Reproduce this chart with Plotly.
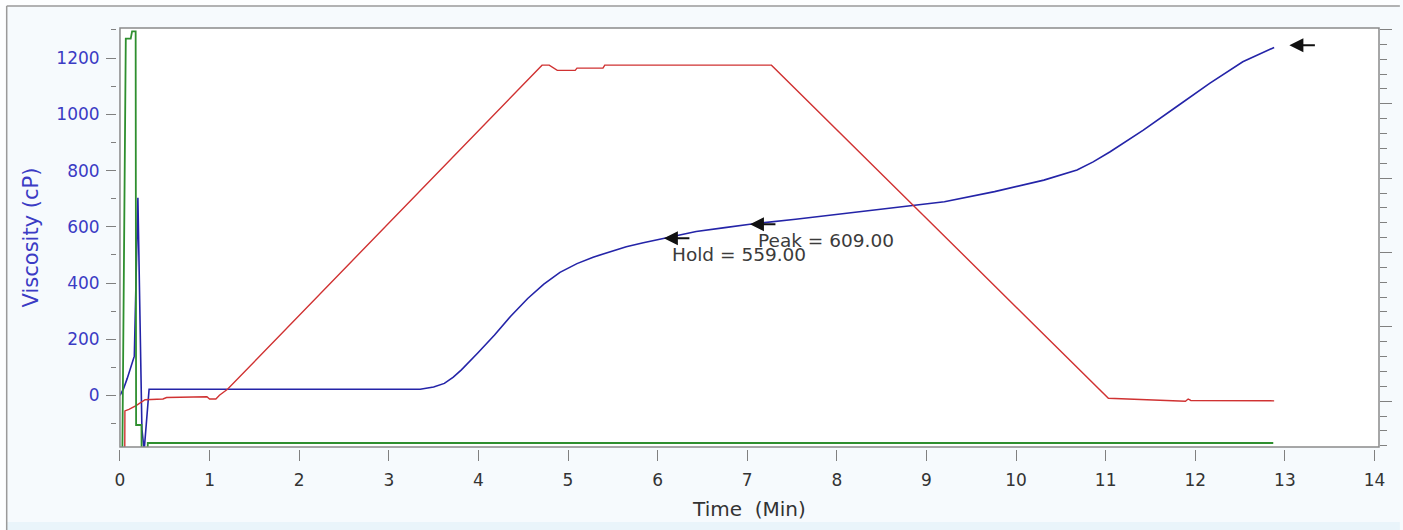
import plotly.graph_objects as go

# ---- RVA pasting run: viscosity, temperature and paddle speed vs time ----
time_visc = [0.00, 0.04, 0.08, 0.13, 0.16, 0.20, 0.245, 0.27, 0.30, 0.325,
             3.35, 3.50, 3.62, 3.72, 3.81, 3.90, 3.99, 4.18, 4.36, 4.55,
             4.73, 4.91, 5.10, 5.28, 5.47, 5.65, 5.84, 6.07, 6.43, 6.75,
             7.03, 7.54, 8.09, 8.65, 8.81, 9.20, 9.76, 10.31, 10.68, 10.86,
             11.05, 11.42, 11.79, 12.16, 12.53, 12.88]
viscosity = [0, 24, 60, 115, 140, 703, -120, -195, -60, 22,
             22, 30, 43, 65, 91, 120, 150, 215, 282, 345,
             396, 438, 469, 492, 511, 529, 543, 559, 583, 597,
             609, 627, 648, 668, 674, 689, 725, 766, 802, 831,
             867, 944, 1027, 1110, 1187, 1238]

time_temp = [0.05, 0.055, 0.10, 0.18, 0.28, 0.48, 0.52, 0.97, 1.00, 1.07,
             1.11, 1.20, 4.71, 4.79, 4.88, 5.08, 5.10, 5.39, 5.41, 7.27,
             11.03, 11.86, 11.89, 11.92, 11.95, 12.88]
temperature = [30.0, 48.7, 48.9, 49.4, 50.2, 50.3, 50.5, 50.6, 50.3, 50.3,
               50.8, 51.6, 95.2, 95.2, 94.5, 94.5, 94.8, 94.8, 95.2, 95.2,
               50.4, 50.1, 50.0, 50.3, 50.1, 50.05]

time_speed = [0.02, 0.065, 0.12, 0.135, 0.175, 0.18, 0.24, 0.245, 0.305, 0.31, 12.87]
speed = [0, 946, 946, 960, 960, 195, 195, 0, 0, 160, 160]

# flagged points on the viscosity curve
marker_names = ["Hold", "Peak", ""]
marker_times = [6.07, 7.03, 13.05]
marker_values = [559.00, 609.00, 1246.0]

x_ticks = list(range(0, 15))

W, H = 1403, 530
ML, MR, MT, MB = 116, 16, 28, 81
GAP_Y, GAP_X = 4, 2
plot_w = W - ML - MR
plot_h = H - MT - MB

FONT = "DejaVu Sans"
BLUE_TXT = "#3b3bc4"
GRAY = "#808080"


def px_x(px):
    return (px - ML) / plot_w


def px_y(py):
    return (H - MB - py) / plot_h


fig = go.Figure()

fig.add_trace(go.Scatter(x=time_speed, y=speed, mode="lines", yaxis="y3",
                         line=dict(color="#2f8f2f", width=1.8), hoverinfo="skip"))
fig.add_trace(go.Scatter(x=time_temp, y=temperature, mode="lines", yaxis="y2",
                         line=dict(color="#d03232", width=1.4), hoverinfo="skip"))
fig.add_trace(go.Scatter(x=time_visc, y=viscosity, mode="lines", yaxis="y",
                         line=dict(color="#2424a8", width=1.6), hoverinfo="skip"))

annotations = []
for name, t, v in zip(marker_names, marker_times, marker_values):
    annotations.append(dict(x=t, y=v, xref="x", yref="y", text="", showarrow=True,
                            ax=27, ay=0, axref="pixel", ayref="pixel",
                            arrowhead=2, arrowsize=1.4, arrowwidth=2,
                            arrowcolor="#111111", standoff=0, startstandoff=0))
    if name:
        annotations.append(dict(x=t, y=v, xref="x", yref="y",
                                text=f"{name} = {v:.2f}", showarrow=False,
                                xanchor="left", yanchor="middle", xshift=6, yshift=-16,
                                font=dict(family=FONT, size=18.5, color="#3b3b3b")))

shapes = [
    # outer panel: lower band and border lines
    dict(type="rect", xref="paper", yref="paper", x0=px_x(-5), x1=px_x(W + 5),
         y0=px_y(H + 5), y1=px_y(522), fillcolor="#e9f4fa", line=dict(width=0), layer="below"),
    dict(type="rect", xref="paper", yref="paper", x0=px_x(-5), x1=px_x(W + 5),
         y0=px_y(5.5), y1=px_y(-5), fillcolor="#fdfeff", line=dict(width=0), layer="below"),
    dict(type="rect", xref="paper", yref="paper", x0=px_x(-5), x1=px_x(5.5),
         y0=px_y(H + 5), y1=px_y(-5), fillcolor="#fdfeff", line=dict(width=0), layer="below"),
    dict(type="line", xref="paper", yref="paper", x0=px_x(6), x1=px_x(W + 5),
         y0=px_y(6), y1=px_y(6), line=dict(color="#9a9a9a", width=1.5)),
    dict(type="line", xref="paper", yref="paper", x0=px_x(6), x1=px_x(6),
         y0=px_y(6), y1=px_y(H + 5), line=dict(color="#9a9a9a", width=1.5)),
    # plot frame
    dict(type="rect", xref="x domain", yref="y domain", x0=0, x1=1, y0=0, y1=1,
         line=dict(color="#8a8a8a", width=1.5), layer="above"),
]

fig.update_layout(
    width=W, height=H,
    margin=dict(l=ML, r=MR, t=MT, b=MB, pad=0),
    paper_bgcolor="#f6fafd",
    plot_bgcolor="#ffffff",
    showlegend=False,
    font=dict(family=FONT, size=17, color="#333333"),
    xaxis=dict(
        domain=[GAP_Y / plot_w, 1], range=[0, 14.05], anchor="free", position=0,
        tickmode="array", tickvals=x_ticks, ticktext=[str(v) for v in x_ticks],
        ticks="outside", ticklen=11, tickwidth=1, tickcolor=GRAY, ticklabelstandoff=5,
        showline=False, showgrid=False, zeroline=False,
        tickfont=dict(family=FONT, size=17, color="#333333"),
        title=dict(text="Time\u00a0 (Min)", font=dict(family=FONT, size=20, color="#333333"),
                   standoff=12),
    ),
    yaxis=dict(
        domain=[GAP_X / plot_h, 1], range=[-183.2, 1307], anchor="free", position=0,
        tick0=0, dtick=200, ticks="outside", ticklen=10, tickwidth=1, tickcolor=GRAY,
        ticklabelstandoff=3,
        minor=dict(ticks="outside", ticklen=5, dtick=100, tick0=0, tickcolor=GRAY, showgrid=False),
        showline=False, showgrid=False, zeroline=False,
        tickfont=dict(family=FONT, size=17, color=BLUE_TXT),
        title=dict(text="Viscosity (cP)", font=dict(family=FONT, size=21, color=BLUE_TXT),
                   standoff=10),
    ),
    yaxis2=dict(
        overlaying="y", side="right", anchor="x", range=[43.84, 100.2],
        tick0=0, dtick=10, ticks="outside", ticklen=12, tickwidth=1, tickcolor=GRAY,
        minor=dict(ticks="outside", ticklen=7, dtick=2, tick0=0, tickcolor=GRAY, showgrid=False),
        showticklabels=False, showline=False, showgrid=False, zeroline=False,
    ),
    yaxis3=dict(
        overlaying="y", anchor="x", range=[152.2, 966.6], visible=False,
        showgrid=False, zeroline=False,
    ),
    annotations=annotations,
    shapes=shapes,
)

fig.write_html("out.html")
